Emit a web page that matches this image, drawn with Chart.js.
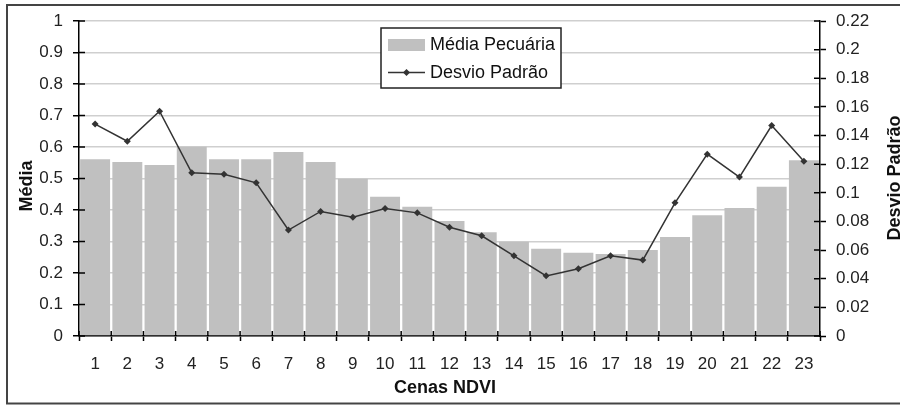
<!DOCTYPE html>
<html>
<head>
<meta charset="utf-8">
<script src="https://cdn.jsdelivr.net/npm/chart.js@4/dist/chart.umd.min.js"></script>
<style>
  body { margin: 0; background: #fff; }
  canvas { display: block; }
</style>
</head>
<body>
<canvas id="ndviChart" width="900" height="406"></canvas>
<script>
const cenas = ["1", "2", "3", "4", "5", "6", "7", "8", "9", "10", "11", "12",
  "13", "14", "15", "16", "17", "18", "19", "20", "21", "22", "23"];

// media (eixo esquerdo)
const mediaPecuaria = [0.561, 0.552, 0.543, 0.601, 0.561, 0.561, 0.584, 0.552,
  0.499, 0.442, 0.410, 0.365, 0.329, 0.299, 0.277, 0.264, 0.260, 0.273, 0.314,
  0.383, 0.406, 0.474, 0.558];

// desvio padrao (eixo direito)
const desvioPadrao = [0.148, 0.136, 0.157, 0.114, 0.113, 0.107, 0.074, 0.087,
  0.083, 0.089, 0.086, 0.076, 0.070, 0.056, 0.042, 0.047, 0.056, 0.053, 0.093,
  0.127, 0.111, 0.147, 0.122];

const FONT = '"Liberation Sans", Arial, sans-serif';

function fmt(v) {
  return String(Number(v.toFixed(2)));
}

const extras = {
  id: "extras",
  beforeDraw(chart) {
    const ctx = chart.ctx;
    ctx.save();
    ctx.fillStyle = "#fff";
    ctx.fillRect(0, 0, chart.width, chart.height);
    ctx.restore();
  },
  afterDatasetsDraw(chart) {
    // marcas de escala para dentro
    const ctx = chart.ctx;
    const a = chart.chartArea;
    const y = chart.scales.y, y1 = chart.scales.y1;
    ctx.save();
    ctx.strokeStyle = "#000";
    ctx.lineWidth = 1.5;
    ctx.beginPath();
    y.ticks.forEach((t) => {
      const py = y.getPixelForValue(t.value);
      ctx.moveTo(a.left, py);
      ctx.lineTo(a.left + 6, py);
    });
    y1.ticks.forEach((t) => {
      const py = y1.getPixelForValue(t.value);
      ctx.moveTo(a.right - 6, py);
      ctx.lineTo(a.right, py);
    });
    const w = (a.right - a.left) / cenas.length;
    for (let i = 0; i <= cenas.length; i++) {
      const px = a.left + i * w;
      ctx.moveTo(px, a.bottom);
      ctx.lineTo(px, a.bottom - 5);
    }
    ctx.stroke();
    ctx.restore();
  },
  afterDraw(chart) {
    const ctx = chart.ctx;
    ctx.save();

    // moldura
    ctx.strokeStyle = "#444";
    ctx.lineWidth = 2;
    ctx.strokeRect(7, 5, 900, 398.5);

    // titulos
    ctx.fillStyle = "#111";
    ctx.font = "bold 18px " + FONT;
    ctx.textAlign = "center";
    ctx.textBaseline = "alphabetic";
    ctx.fillText("Cenas NDVI", 445, 393);

    ctx.save();
    ctx.translate(32, 186);
    ctx.rotate(-Math.PI / 2);
    ctx.fillText("Média", 0, 0);
    ctx.restore();

    ctx.save();
    ctx.translate(900, 178);
    ctx.rotate(-Math.PI / 2);
    ctx.fillText("Desvio Padrão", 0, 0);
    ctx.restore();

    // legenda
    ctx.fillStyle = "#fff";
    ctx.fillRect(381, 28, 180, 60);
    ctx.strokeStyle = "#222";
    ctx.lineWidth = 1.5;
    ctx.strokeRect(381, 28, 180, 60);

    ctx.fillStyle = "#c0c0c0";
    ctx.fillRect(388, 39, 37, 12);

    ctx.strokeStyle = "#333";
    ctx.lineWidth = 1.5;
    ctx.beginPath();
    ctx.moveTo(388, 72.5);
    ctx.lineTo(425, 72.5);
    ctx.stroke();
    ctx.fillStyle = "#333";
    ctx.beginPath();
    ctx.moveTo(406.5, 69);
    ctx.lineTo(410, 72.5);
    ctx.lineTo(406.5, 76);
    ctx.lineTo(403, 72.5);
    ctx.closePath();
    ctx.fill();

    ctx.fillStyle = "#111";
    ctx.font = "18px " + FONT;
    ctx.textAlign = "left";
    ctx.textBaseline = "middle";
    ctx.fillText("Média Pecuária", 430, 45);
    ctx.fillText("Desvio Padrão", 430, 73);

    ctx.restore();
  },
};

new Chart(document.getElementById("ndviChart"), {
  type: "bar",
  data: {
    labels: cenas,
    datasets: [
      {
        type: "line",
        label: "Desvio Padrão",
        data: desvioPadrao,
        yAxisID: "y1",
        borderColor: "#333",
        backgroundColor: "#333",
        borderWidth: 1.5,
        pointStyle: "rectRot",
        pointRadius: 3.5,
        pointBorderWidth: 0,
        tension: 0,
        order: 0,
      },
      {
        label: "Média Pecuária",
        data: mediaPecuaria,
        yAxisID: "y",
        backgroundColor: "#c0c0c0",
        borderWidth: 0,
        barPercentage: 0.93,
        categoryPercentage: 1,
        order: 1,
      },
    ],
  },
  options: {
    responsive: false,
    animation: false,
    devicePixelRatio: 1,
    layout: { padding: { top: 21, left: 0, right: 0, bottom: 0 } },
    plugins: {
      legend: { display: false },
      tooltip: { enabled: false },
    },
    scales: {
      x: {
        grid: {
          offset: true,
          drawOnChartArea: false,
          tickColor: "#000",
          tickLength: 5,
          tickWidth: 1.5,
        },
        border: { color: "#000", width: 1.5 },
        ticks: {
          color: "#222",
          font: { family: FONT, size: 17 },
          padding: 13,
          maxRotation: 0,
          autoSkip: false,
        },
        afterFit(scale) {
          scale.height = 70;
        },
      },
      y: {
        position: "left",
        min: 0,
        max: 1,
        grid: {
          color: "#cfcfcf",
          lineWidth: 1.5,
          tickColor: "#000",
          tickLength: 6,
          tickWidth: 1.5,
        },
        border: { color: "#000", width: 1.5 },
        ticks: {
          stepSize: 0.1,
          color: "#222",
          font: { family: FONT, size: 17 },
          padding: 10,
          callback: fmt,
        },
        afterFit(scale) {
          scale.width = 79;
        },
      },
      y1: {
        position: "right",
        min: 0,
        max: 0.22,
        grid: {
          drawOnChartArea: false,
          tickColor: "#000",
          tickLength: 6,
          tickWidth: 1.5,
        },
        border: { color: "#000", width: 1.5 },
        ticks: {
          stepSize: 0.02,
          color: "#222",
          font: { family: FONT, size: 17 },
          padding: 10,
          callback: fmt,
        },
        afterFit(scale) {
          scale.width = 80;
        },
      },
    },
  },
  plugins: [extras],
});
</script>
</body>
</html>
